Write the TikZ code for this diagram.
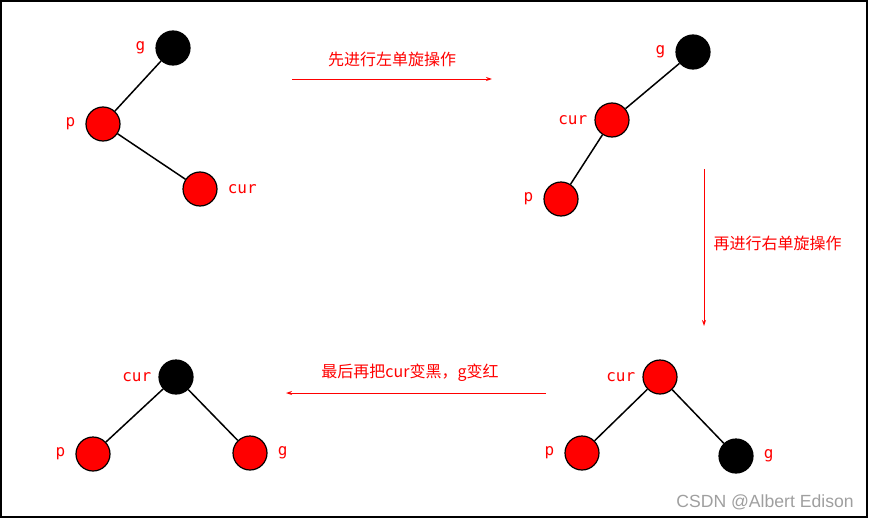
\documentclass[tikz,border=0pt]{standalone}
\usepackage{fontspec}
\usepackage{xcolor}
\usetikzlibrary{arrows.meta,positioning}
\newfontfamily\cjk{Noto Sans CJK SC}
\newfontfamily\tagfont{DejaVu Sans Mono}
\newfontfamily\markfont{Liberation Sans}
\definecolor{rbred}{RGB}{255,0,0}

\begin{document}
\begin{tikzpicture}[x=1pt,y=-1pt, rb/.style={circle,draw=black,line width=1.2pt,minimum size=34pt,inner sep=0pt}, rnode/.style={rb,fill=rbred}, bnode/.style={rb,fill=black}, tag/.style={text=rbred,inner sep=0pt,font=\tagfont\fontsize{16}{18}\selectfont}, edge/.style={line width=1.5pt}, arr/.style={-{Stealth[length=6pt,width=4pt]},rbred,line width=1pt}, note/.style={text=rbred,inner sep=0pt,font=\cjk\fontsize{16}{18}\selectfont}]
\useasboundingbox (0,0) rectangle (869,519);
\draw[line width=1.3pt] (1,1) rectangle (867,517);
% step 1: before rotation
\node[bnode] (g1) at (173,48) {};
\node[rnode] (p1) at (103,124) {};
\node[rnode] (c1) at (200,189) {};
\node[tag,left=10pt of g1] {g};
\node[tag,left=10pt of p1] {p};
\node[tag,right=10pt of c1] {cur};
\draw[edge] (g1) -- (p1);
\draw[edge] (p1) -- (c1);
% step 2: after left rotation
\node[bnode] (g2) at (693,52) {};
\node[rnode] (c2) at (612,120) {};
\node[rnode] (p2) at (561,199) {};
\node[tag,left=10pt of g2] {g};
\node[tag,left=7pt of c2] {cur};
\node[tag,left=10pt of p2] {p};
\draw[edge] (g2) -- (c2);
\draw[edge] (c2) -- (p2);
% step 3: after right rotation
\node[rnode] (c3) at (660,377) {};
\node[rnode] (p3) at (582,453) {};
\node[bnode] (g3) at (736,456) {};
\node[tag,left=7pt of c3] {cur};
\node[tag,left=10pt of p3] {p};
\node[tag,right=10pt of g3] {g};
\draw[edge] (c3) -- (p3);
\draw[edge] (c3) -- (g3);
% step 4: recoloured
\node[bnode] (c4) at (176,377) {};
\node[rnode] (p4) at (93,454) {};
\node[rnode] (g4) at (250,453) {};
\node[tag,left=7pt of c4] {cur};
\node[tag,left=10pt of p4] {p};
\node[tag,right=10pt of g4] {g};
\draw[edge] (c4) -- (p4);
\draw[edge] (c4) -- (g4);
% arrows between steps
\coordinate (a1s) at (292,79);
\coordinate (a1e) at (492,79);
\coordinate (a2s) at (704,169);
\coordinate (a2e) at (704,326);
\coordinate (a3s) at (546,393);
\coordinate (a3e) at (286,393);
\draw[arr] (a1s) -- node[note,above=12pt] {先进行左单旋操作} (a1e);
\draw[arr] (a2s) -- node[note,right=9pt,yshift=4pt] {再进行右单旋操作} (a2e);
\draw[arr] (a3s) -- node[note,above=11pt,xshift=-6pt] {最后再把cur变黑，g变红} (a3e);
\node[text=gray!75,font=\markfont\fontsize{17.6}{20}\selectfont] (mark) at (765,502) {CSDN @Albert Edison};
\end{tikzpicture}
\end{document}
